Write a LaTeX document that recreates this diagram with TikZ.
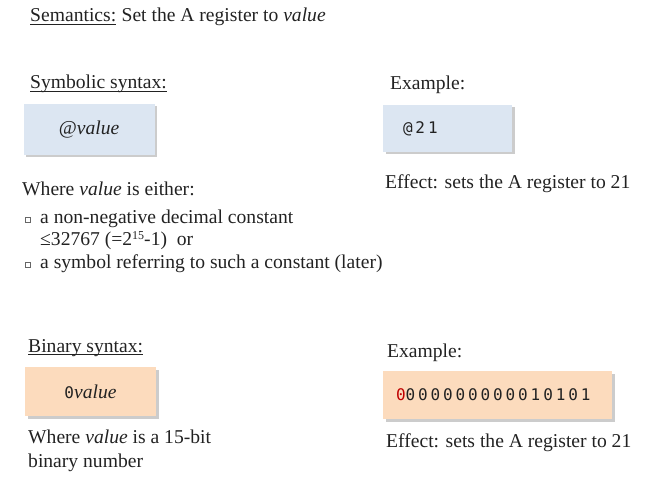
\documentclass[tikz,border=0pt]{standalone}
\usepackage{fontspec}
\setmainfont{Liberation Serif}
\newfontfamily\codefont[LetterSpace=18]{DejaVu Sans Mono}
\usetikzlibrary{shadows}
\definecolor{symblue}{RGB}{220,230,242}
\definecolor{binorange}{RGB}{252,219,189}
\definecolor{inkgray}{RGB}{34,34,34}
\definecolor{bitred}{RGB}{192,0,0}
\newcommand{\code}[1]{{\codefont\fontsize{16}{18}\selectfont #1}}
\begin{document}
\begin{tikzpicture}[
        x = 1pt, y = -1pt,
        font = \fontsize{19.6}{24}\selectfont,
        text = inkgray,
        txt/.style = {anchor = base west, inner sep = 0pt},
        uline/.style = {draw = inkgray, line width = .6pt},
        codebox/.style = {inner sep = 0pt, drop shadow = {shadow xshift = 2.5pt, shadow yshift = -2.5pt, opacity = .4}},
        symbox/.style = {codebox, fill = symblue},
        binbox/.style = {codebox, fill = binorange},
        sqdot/.style = {draw = black!60, fill = white, line width = .5pt, minimum size = 5pt, inner sep = 0pt,
            drop shadow = {shadow xshift = .8pt, shadow yshift = -.8pt, opacity = 1, fill = black!70}}
    ]
        \useasboundingbox (0, 0) rectangle (670, 484);
        % semantics
        \node[txt] (semhead) at (30, 22) {Semantics:};
        \node[txt] (semtext) at ([xshift = 5pt] semhead.base east) {Set the A register to \textit{value}};
        \draw[uline] ([yshift = -2.7pt] semhead.base west) -- ([yshift = -2.7pt] semhead.base east);
        % symbolic syntax
        \node[txt] (symhead) at (30, 89) {Symbolic syntax:};
        \draw[uline] ([yshift = -2.5pt] symhead.base west) -- ([yshift = -2.5pt] symhead.base east);
        \node[symbox, minimum width = 131pt, minimum height = 51pt] (symform) at (89, 129.5) {@\textit{value}};
        \node[txt] (symwhere) at (22, 196) {Where \textit{value} is either:};
        \node[sqdot] (dot1) at (27.5, 220) {};
        \node[txt] (item1) at (40, 223) {a non-negative decimal constant};
        \node[txt] (item1b) at (40, 246) {≤32767 (=2{\fontsize{12}{12}\selectfont\raisebox{6pt}{15}}-1)\ \ or};
        \node[sqdot] (dot2) at (27.5, 265) {};
        \node[txt] (item2) at (40, 268) {a symbol referring to such a constant (later)};
        \node[txt] (symex) at (390, 90) {Example:};
        \node[symbox, minimum height = 47pt, inner xsep = 20pt, text width = 89pt, align = left] (symexbox) at (447.5, 128.5)
            {\code{@21}};
        \node[txt] (symeffect) at (385, 189) {Effect: sets the A register to 21};
        % binary syntax
        \node[txt] (binhead) at (28, 352) {Binary syntax:};
        \draw[uline] ([yshift = -2.5pt] binhead.base west) -- ([yshift = -2.5pt] binhead.base east);
        \node[binbox, minimum width = 131pt, minimum height = 49pt] (binform) at (90.5, 391.5) {\code{0}\textit{value}};
        \node[txt] (binwhere) at (28, 443) {Where \textit{value} is a 15-bit};
        \node[txt] (binwhereb) at (28, 467) {binary number};
        \node[txt] (binex) at (387, 357) {Example:};
        \node[binbox, minimum height = 48pt, inner xsep = 13pt, text width = 203pt, align = left] (binexbox) at (497.5, 395)
            {\code{\textcolor{bitred}{0}000000000010101}};
        \node[txt] (bineffect) at (386, 447) {Effect: sets the A register to 21};
    \end{tikzpicture}
\end{document}
